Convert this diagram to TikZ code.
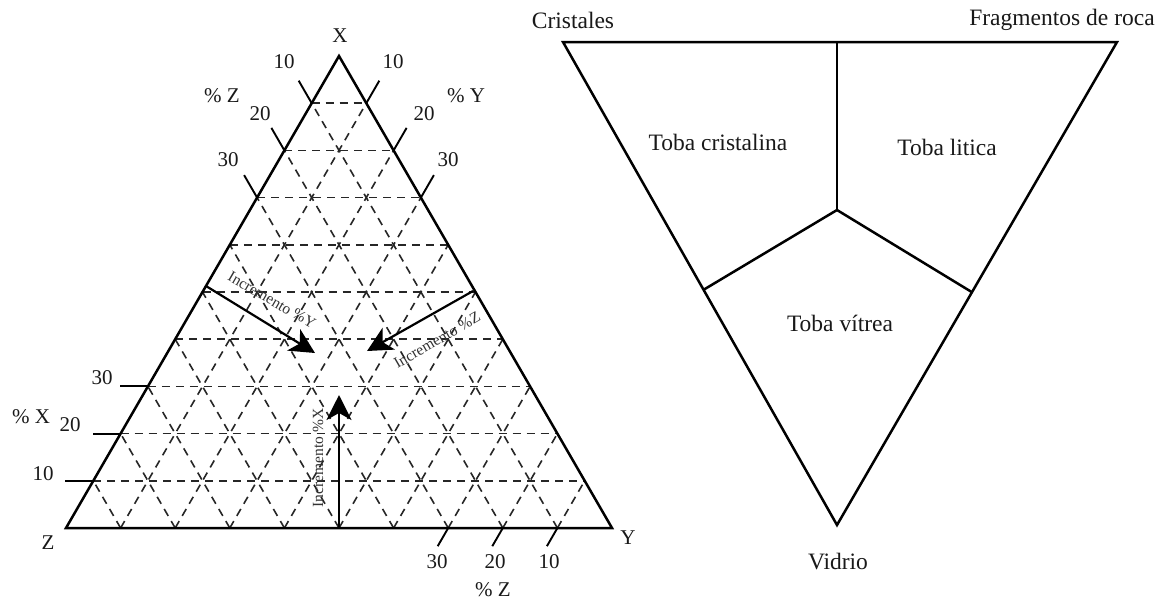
\documentclass[tikz,border=0pt]{standalone}
\usepackage{fontspec}
\setmainfont{Liberation Serif}
\usetikzlibrary{calc,arrows.meta}
\begin{document}
\begin{tikzpicture}[x=1pt,y=-1pt,
  edge/.style={line width=2.5pt, line join=miter},
  gridline/.style={line width=1.6pt, dash pattern=on 8pt off 6pt, draw=black!85},
  tickline/.style={line width=1.9pt},
  lab/.style={font=\fontsize{21}{21}\selectfont, inner sep=0pt, text=black!90},
  rlab/.style={font=\fontsize{23.5}{23.5}\selectfont, inner sep=0pt, text=black!90},
  inc/.style={font=\fontsize{15.5}{15.5}\selectfont, inner sep=0pt, text=black!80},
  incarrow/.style={line width=2.2pt, -{Stealth[length=25pt,width=25pt,inset=7pt]}},
]
\useasboundingbox (0,0) rectangle (1161,603);
\fill[white] (0,0) rectangle (1161,603);

% ---------------- left ternary diagram ----------------
\coordinate (X) at (339,56);
\coordinate (Z) at (66,528);
\coordinate (Y) at (612,528);

\foreach \k in {1,...,9}{
  \pgfmathsetmacro\f{\k/10}
  \draw[gridline] ($(Z)!\f!(X)$) -- ($(Y)!\f!(X)$);
  \draw[gridline] ($(Z)!\f!(Y)$) -- ($(X)!\f!(Y)$);
  \draw[gridline] ($(Y)!\f!(Z)$) -- ($(X)!\f!(Z)$);
}

% ticks
\foreach \k in {1,2,3}{
  \pgfmathsetmacro\f{\k/10}
  % %Z ticks on left edge near X
  \coordinate (pz\k) at ($(X)!\f!(Z)$);
  \coordinate (qz\k) at ($(Y)!\f!(Z)$);
  \draw[tickline] (pz\k) -- ($(pz\k)!-26pt!(qz\k)$);
  % %Y ticks on right edge near X
  \coordinate (py\k) at ($(X)!\f!(Y)$);
  \coordinate (qy\k) at ($(Z)!\f!(Y)$);
  \draw[tickline] (py\k) -- ($(py\k)!-26pt!(qy\k)$);
  % %X ticks on left edge near Z
  \coordinate (px\k) at ($(Z)!\f!(X)$);
  \draw[tickline] (px\k) -- ++(-28,0);
  % %Z ticks on bottom edge near Y
  \coordinate (pb\k) at ($(Y)!\f!(Z)$);
  \coordinate (qb\k) at ($(Y)!\f!(X)$);
  \draw[tickline] (pb\k) -- ($(pb\k)!-21pt!(qb\k)$);
}

\draw[edge] (X) -- (Y) -- (Z) -- cycle;

% vertex labels
\node[lab] (lX) at (340,36) {X};
\node[lab] (lZ) at (48,543) {Z};
\node[lab] (lY) at (628,538) {Y};

% tick labels
\node[lab] (tz10) at (284,62) {10};
\node[lab] (tz20) at (260,114) {20};
\node[lab] (tz30) at (228,160) {30};
\node[lab] (tzt) at (222,96) {\% Z};
\node[lab] (ty10) at (393,62) {10};
\node[lab] (ty20) at (424,114) {20};
\node[lab] (ty30) at (448,160) {30};
\node[lab] (tyt) at (466,96) {\% Y};
\node[lab] (tx30) at (102,378) {30};
\node[lab] (tx20) at (70,425) {20};
\node[lab] (tx10) at (43,474) {10};
\node[lab] (txt) at (31,417) {\% X};
\node[lab] (tb30) at (437,562) {30};
\node[lab] (tb20) at (495,562) {20};
\node[lab] (tb10) at (549,562) {10};
\node[lab] (tbt) at (493,590) {\% Z};

% increment arrows
\coordinate (ax0) at ($(Z)!0.5!(Y)$);
\coordinate (ax1) at (339,395);
\coordinate (ay0) at (206,286);
\coordinate (ay1) at (315,353);
\coordinate (az0) at (473,291);
\coordinate (az1) at (367,351);
\draw[incarrow] (ax0) -- (ax1);
\draw[incarrow] (ay0) -- (ay1);
\draw[incarrow] (az0) -- (az1);
\node[inc, rotate=90] (ix) at (318,458) {Incremento \%X};
\node[inc, rotate=-30] (iy) at (272,300) {Incremento \%Y};
\node[inc, rotate=30] (iz) at (437,340) {Incremento \%Z};

% ---------------- right diagram ----------------
\coordinate (A) at (563,42);
\coordinate (B) at (1117,42);
\coordinate (V) at (837,525);
\coordinate (D) at (837,42);
\coordinate (C) at (837,210);
\coordinate (L) at ($(A)!0.513!(V)$);
\coordinate (R) at ($(B)!0.518!(V)$);
\draw[edge] (A) -- (B) -- (V) -- cycle;
\draw[edge] (D) -- (C);
\draw[edge] (L) -- (C) -- (R);

\node[rlab] (cr) at (573,20) {Cristales};
\node[rlab] (fr) at (1062,20) {Fragmentos de roca};
\node[rlab] (tc) at (718,142) {Toba cristalina};
\node[rlab] (tl) at (947,147) {Toba litica};
\node[rlab] (tv) at (840,323) {Toba vítrea};
\node[rlab] (vi) at (838,562) {Vidrio};
\end{tikzpicture}
\end{document}
